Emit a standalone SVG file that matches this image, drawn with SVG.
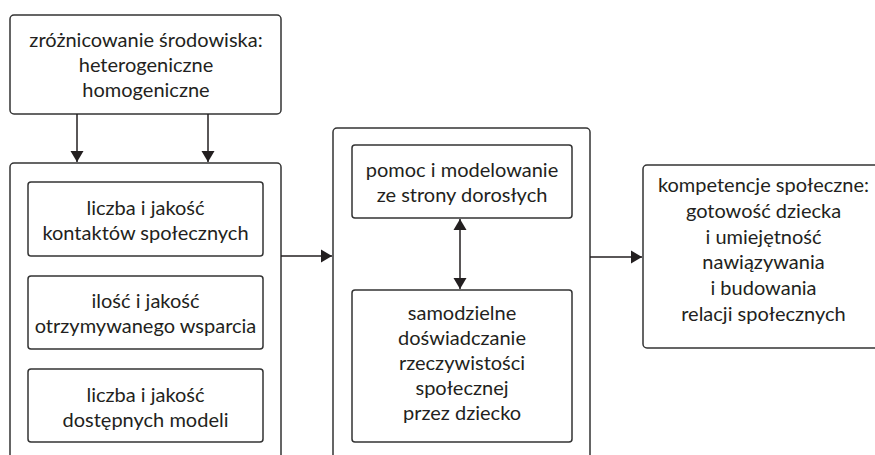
<svg xmlns="http://www.w3.org/2000/svg" width="875" height="455" viewBox="0 0 875 455">
<defs>
<style>
.box{fill:#fff;stroke:#333;stroke-width:1.5}
.t{font-family:Lato,"Source Sans Pro","Liberation Sans",sans-serif;font-size:20px;fill:#231f20;text-anchor:middle}
.c{fill:none;stroke:#231f20;stroke-width:1.5}
</style>
<marker id="ah" markerUnits="userSpaceOnUse" markerWidth="12" markerHeight="14" refX="11" refY="6.5" orient="auto-start-reverse" viewBox="0 0 12 13">
<path d="M0,0 L11,6.5 L0,13 Z" fill="#231f20"/>
</marker>
</defs>
<rect width="875" height="455" fill="#fff"/>
<g id="env">
<rect class="box" x="10" y="15" width="271" height="99" rx="4"/>
<text class="t" x="146" y="47">zróżnicowanie środowiska:</text>
<text class="t" x="146" y="72">heterogeniczne</text>
<text class="t" x="146" y="97">homogeniczne</text>
</g>
<g id="factors">
<rect class="box" x="10" y="163" width="271" height="320" rx="4"/>
</g>
<g id="contacts">
<rect class="box" x="28" y="182" width="235" height="74" rx="3"/>
<text class="t" x="145.5" y="215">liczba i jakość</text>
<text class="t" x="145.5" y="240">kontaktów społecznych</text>
</g>
<g id="support">
<rect class="box" x="28" y="276" width="235" height="73" rx="3"/>
<text class="t" x="145.5" y="308">ilość i jakość</text>
<text class="t" x="145.5" y="333">otrzymywanego wsparcia</text>
</g>
<g id="models">
<rect class="box" x="28" y="369" width="235" height="73" rx="3"/>
<text class="t" x="145.5" y="402">liczba i jakość</text>
<text class="t" x="145.5" y="427">dostępnych modeli</text>
</g>
<g id="process">
<rect class="box" x="333" y="128" width="257" height="350" rx="4"/>
</g>
<g id="help">
<rect class="box" x="352" y="145" width="220" height="73" rx="3"/>
<text class="t" x="462" y="177">pomoc i modelowanie</text>
<text class="t" x="462" y="202">ze strony dorosłych</text>
</g>
<g id="experience">
<rect class="box" x="352" y="290" width="220" height="152" rx="3"/>
<text class="t" x="462" y="320">samodzielne</text>
<text class="t" x="462" y="345">doświadczanie</text>
<text class="t" x="462" y="370">rzeczywistości</text>
<text class="t" x="462" y="395">społecznej</text>
<text class="t" x="462" y="420">przez dziecko</text>
</g>
<g id="competence">
<rect class="box" x="643" y="165" width="260" height="183" rx="4"/>
<text class="t" x="763.5" y="192">kompetencje społeczne:</text>
<text class="t" x="763.5" y="218">gotowość dziecka</text>
<text class="t" x="763.5" y="243.5">i umiejętność</text>
<text class="t" x="763.5" y="269">nawiązywania</text>
<text class="t" x="763.5" y="295">i budowania</text>
<text class="t" x="763.5" y="320.5">relacji społecznych</text>
</g>
<g id="connectors">
<line class="c" x1="77" y1="114" x2="77" y2="162" marker-end="url(#ah)"/>
<line class="c" x1="208" y1="114" x2="208" y2="162" marker-end="url(#ah)"/>
<line class="c" x1="281" y1="256" x2="332" y2="256" marker-end="url(#ah)"/>
<line class="c" x1="460" y1="219" x2="460" y2="289" marker-start="url(#ah)" marker-end="url(#ah)"/>
<line class="c" x1="590" y1="257" x2="642" y2="257" marker-end="url(#ah)"/>
</g>
</svg>
